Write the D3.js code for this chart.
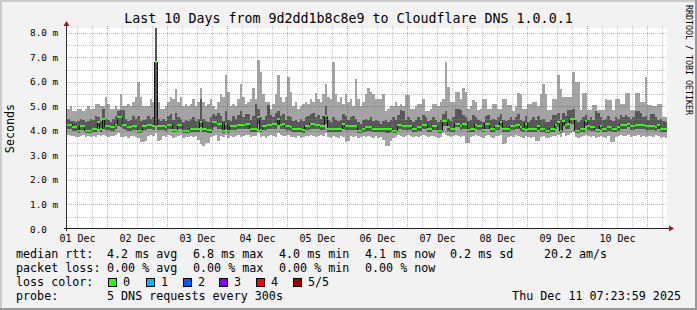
<!DOCTYPE html>
<html>
<head>
<meta charset="utf-8">
<script src="https://cdn.jsdelivr.net/npm/d3@7"></script>
<style>
  html, body { margin: 0; padding: 0; background: #f2f2f2; }
  svg { display: block; }
  text { font-family: "DejaVu Sans Mono", monospace; fill: #000; }
</style>
</head>
<body>
<div id="chart"></div>
<script>
// hourly RRA, 240 bins over 10 days; 5 pings per sample, sorted (ms)
const rttMax = [
  4.9,5.0,4.8,4.8,4.9,4.9,4.8,4.9,5.0,4.9,4.9,5.1,5.1,5.0,5.0,5.4,5.1,4.9,4.9,5.0,4.9,5.5,5.0,5.0,
  5.1,5.0,5.2,5.4,6.0,5.4,5.0,5.0,5.0,5.3,5.2,8.2,5.2,4.9,4.9,5.0,5.2,5.4,5.3,5.7,5.2,5.4,5.0,5.1,
  5.0,5.1,5.3,5.0,5.2,5.75,5.2,5.0,5.1,5.3,5.0,4.9,5.2,5.5,5.4,6.3,5.6,5.0,5.1,5.0,5.3,5.9,5.4,5.1,
  5.2,5.3,5.75,5.3,6.9,6.4,5.5,5.2,5.2,4.9,5.1,5.5,6.3,5.4,5.2,5.4,6.2,5.6,5.0,5.2,4.9,5.0,5.1,5.2,
  5.1,5.3,5.2,5.55,5.3,5.2,5.5,5.9,5.4,5.3,6.8,5.5,5.2,5.4,5.1,5.5,5.2,5.3,5.0,6.1,5.3,5.0,5.2,5.5,
  5.75,5.6,5.5,5.3,5.3,5.3,5.5,4.8,4.9,5.0,5.0,5.2,5.0,5.1,5.0,5.45,5.45,4.9,4.9,5.0,5.1,5.1,5.3,4.8,
  4.8,4.9,5.1,5.1,5.0,5.2,5.3,6.8,5.8,5.2,5.2,5.6,5.6,5.3,5.75,5.6,4.9,5.0,5.25,5.2,4.85,4.9,5.3,5.3,
  4.9,4.9,5.1,5.1,4.9,4.9,5.3,5.3,5.05,5.05,4.8,5.0,5.55,5.5,4.9,4.9,5.1,5.1,5.2,5.2,5.0,5.5,5.9,5.5,
  4.85,4.85,5.3,5.3,6.3,5.7,5.4,5.4,5.4,5.4,6.4,6.0,6.0,4.85,5.55,5.55,4.85,4.85,5.05,5.05,4.85,4.85,4.85,5.3,
  5.25,5.25,4.85,5.3,5.3,5.1,5.1,5.55,5.55,4.85,4.85,5.55,5.55,5.2,5.2,6.2,5.05,5.05,5.0,5.0,5.1,5.1,4.55,4.55
];
const rttP4 = [
  4.5,4.4,4.4,4.35,4.4,4.5,4.45,4.35,4.4,4.5,4.45,4.6,4.55,4.4,4.9,4.5,4.45,4.35,4.5,4.6,4.8,4.85,4.85,4.5,
  4.4,4.45,4.6,4.5,4.6,4.4,4.45,4.5,4.6,4.5,4.55,8.2,4.5,4.4,4.5,4.4,4.6,4.7,4.45,4.75,4.55,4.5,4.35,4.45,
  4.4,4.5,4.55,4.4,4.5,5.3,4.5,4.4,4.35,4.55,4.7,4.6,4.75,4.6,4.4,4.8,4.45,4.4,4.6,4.5,4.65,4.8,4.55,4.7,
  4.7,4.45,4.6,5.1,4.9,4.55,4.45,4.6,5.05,4.65,4.55,4.75,4.8,4.6,4.7,4.45,4.6,4.55,4.4,4.45,4.35,4.5,4.4,4.55,
  4.6,4.7,4.75,4.55,4.65,4.5,4.6,5.0,4.45,4.35,4.55,4.45,4.4,4.45,4.7,4.6,4.45,4.55,4.6,4.5,4.35,4.3,4.45,4.5,
  4.45,4.55,4.4,4.45,4.4,4.3,4.4,4.45,4.35,4.45,4.55,4.45,4.65,4.85,4.8,4.45,4.55,4.45,4.35,4.45,4.55,4.45,4.65,4.55,
  4.4,4.45,4.55,4.45,4.35,4.45,4.7,4.8,4.5,4.4,4.55,4.9,4.9,4.85,4.65,4.55,4.4,4.45,4.65,4.55,4.45,4.4,4.35,4.6,
  4.65,4.45,4.5,4.45,4.55,4.7,4.45,4.4,4.45,4.55,4.45,4.55,4.7,4.45,4.4,4.6,4.35,4.45,4.55,4.45,4.6,4.45,4.5,4.35,
  4.35,4.45,4.65,4.65,4.75,4.45,4.75,4.6,4.85,4.85,4.9,4.45,4.35,4.45,4.55,4.65,4.45,4.55,4.45,4.8,4.75,4.55,4.45,4.5,
  4.6,4.45,4.4,4.55,4.5,4.65,4.55,4.65,4.55,4.5,4.55,4.8,4.8,4.75,4.55,4.6,4.45,4.7,4.7,4.55,4.45,4.5,4.4,4.35
];
const rttMedian = [
  4.25,4.25,4.15,4.15,4.0,4.2,4.2,4.0,4.0,4.0,4.1,4.1,4.35,4.1,4.5,4.2,4.2,4.15,4.15,4.25,4.55,4.55,4.25,4.25,
  4.15,4.15,4.2,4.2,4.0,4.0,4.2,4.2,4.25,4.25,4.2,6.8,4.2,4.2,4.2,4.15,4.25,4.25,4.05,4.05,4.25,4.25,4.0,4.0,
  4.0,4.1,4.1,4.1,4.1,4.35,4.1,4.1,4.05,4.05,4.35,4.35,4.3,4.3,4.0,4.3,4.0,4.2,4.2,4.2,4.25,4.25,4.25,4.3,
  4.3,4.1,4.1,4.1,4.55,4.05,4.2,4.2,4.25,4.25,4.3,4.3,4.5,4.25,4.3,4.2,4.2,4.15,4.1,4.1,4.1,4.1,4.05,4.2,
  4.2,4.3,4.3,4.25,4.25,4.2,4.2,4.6,4.1,4.1,4.1,4.1,4.1,4.1,4.3,4.2,4.2,4.2,4.2,4.2,4.0,4.0,4.1,4.15,
  4.15,4.15,4.1,4.1,4.1,4.1,4.1,4.1,4.1,4.1,4.0,4.0,4.25,4.25,4.2,4.2,4.2,4.2,4.1,4.1,4.15,4.15,4.25,4.25,
  4.1,4.1,4.2,4.2,4.0,4.0,4.4,4.4,4.15,4.1,4.1,4.3,4.3,4.2,4.3,4.3,4.05,4.1,4.1,4.25,4.2,4.2,4.05,4.3,
  4.3,4.1,4.1,4.2,4.2,4.35,4.1,4.1,4.1,4.2,4.2,4.25,4.25,4.15,4.1,4.3,4.1,4.1,4.1,4.1,4.2,4.1,4.1,4.0,
  4.0,4.1,4.1,4.25,4.35,4.0,4.4,4.25,4.3,4.5,4.5,4.0,4.0,4.1,4.1,4.4,4.2,4.15,4.15,4.05,4.05,4.2,4.1,4.1,
  4.15,4.15,4.1,4.1,4.15,4.25,4.25,4.25,4.3,4.2,4.2,4.25,4.25,4.25,4.25,4.22,4.22,4.22,4.22,4.15,4.25,4.1,4.1,4.1
];
const rttP2 = [
  4.1,4.1,4.0,4.0,3.9,4.05,4.05,3.9,3.9,3.9,3.95,3.95,4.15,3.95,4.1,4.05,4.05,4.0,4.0,4.1,4.2,4.15,4.1,4.05,
  4.0,4.0,4.05,4.05,3.9,3.9,4.05,4.05,4.1,4.1,4.05,4.2,4.05,4.05,4.05,4.0,4.1,4.1,3.95,3.95,4.1,4.1,3.9,3.9,
  3.9,3.95,3.95,3.95,3.95,4.15,3.95,3.95,3.9,3.9,4.15,4.15,4.1,4.1,3.9,4.1,3.9,4.05,4.05,4.05,4.1,4.1,4.1,4.1,
  4.1,3.95,3.95,3.95,4.3,3.95,4.05,4.05,4.1,4.1,4.1,4.1,4.25,4.1,4.1,4.05,4.05,4.0,3.95,3.95,3.95,3.95,3.9,4.05,
  4.05,4.1,4.1,4.1,4.1,4.05,4.05,4.3,3.95,3.95,3.95,3.95,3.95,3.95,4.1,4.05,4.05,4.05,4.05,4.05,3.9,3.9,3.95,4.0,
  4.0,4.0,3.95,3.95,3.95,3.95,3.95,3.9,3.9,3.95,3.9,3.9,4.1,4.1,4.05,4.05,4.05,4.05,3.95,3.95,4.0,4.0,4.1,4.1,
  3.95,3.95,4.05,4.05,3.9,3.9,4.2,4.2,4.0,3.95,3.95,4.15,4.15,4.05,4.1,4.1,3.95,3.95,3.95,4.1,4.05,4.05,3.95,4.1,
  4.1,3.95,3.95,4.05,4.05,4.15,3.95,3.95,3.95,4.05,4.05,4.1,4.1,4.0,3.95,4.1,3.95,3.95,3.95,3.95,4.05,3.95,3.95,3.9,
  3.9,3.95,3.95,4.1,4.15,3.9,4.2,4.1,4.1,4.3,4.3,3.9,3.9,3.95,3.95,4.2,4.05,4.0,4.0,3.95,3.95,4.05,3.95,3.95,
  4.0,4.0,3.95,3.95,4.0,4.1,4.1,4.1,4.15,4.05,4.05,4.1,4.1,4.1,4.1,4.05,4.05,4.05,4.05,4.0,4.1,3.95,3.95,3.95
];
const rttMin = [
  3.85,3.8,3.8,3.75,3.75,3.8,3.85,3.75,3.8,3.75,3.8,3.75,3.85,3.8,3.85,3.8,3.75,3.8,3.8,3.85,3.9,3.75,3.75,3.8,
  3.7,3.8,3.8,3.75,3.7,3.55,3.55,3.6,3.8,3.85,3.8,3.9,3.6,3.65,3.8,3.75,3.85,3.8,3.7,3.75,3.8,3.85,3.7,3.75,
  3.75,3.8,3.75,3.8,3.65,3.45,3.4,3.5,3.5,3.75,3.8,3.85,3.6,3.8,3.75,3.85,3.7,3.8,3.75,3.8,3.85,3.75,3.8,3.85,
  3.85,3.75,3.8,3.8,3.9,3.75,3.8,3.7,3.8,3.85,3.8,3.75,3.9,3.85,3.8,3.8,3.85,3.75,3.75,3.7,3.8,3.7,3.75,3.8,
  3.8,3.85,3.8,3.75,3.8,3.85,3.8,3.9,3.75,3.7,3.8,3.75,3.7,3.8,3.75,3.55,3.6,3.8,3.75,3.8,3.7,3.75,3.8,3.75,
  3.8,3.75,3.7,3.8,3.7,3.75,3.65,3.4,3.4,3.6,3.7,3.75,3.85,3.8,3.75,3.8,3.85,3.8,3.75,3.8,3.75,3.8,3.85,3.8,
  3.75,3.8,3.8,3.75,3.7,3.75,3.9,3.85,3.8,3.75,3.8,3.85,3.8,3.75,3.8,3.5,3.5,3.75,3.8,3.85,3.8,3.75,3.7,3.8,
  3.85,3.75,3.7,3.8,3.8,3.85,3.45,3.5,3.75,3.8,3.75,3.85,3.8,3.75,3.7,3.8,3.75,3.7,3.75,3.6,3.6,3.75,3.8,3.7,
  3.7,3.75,3.8,3.8,3.85,3.75,3.9,3.8,3.85,3.9,3.95,3.75,3.7,3.75,3.8,3.85,3.8,3.75,3.8,3.7,3.75,3.8,3.75,3.7,
  3.8,3.55,3.55,3.75,3.8,3.85,3.8,3.8,3.85,3.75,3.8,3.8,3.85,3.75,3.8,3.75,3.8,3.8,3.75,3.85,3.8,3.7,3.75,3.7
];

const yTickValues = [0, 1, 2, 3, 4, 5, 6, 7, 8];
const title = 'Last 10 Days from 9d2dd1b8c8e9 to Cloudflare DNS 1.0.0.1';
const medianStats = ['4.2 ms avg', '6.8 ms max', '4.0 ms min', '4.1 ms now', '0.2 ms sd', '20.2', 'am/s'];
const lossStats = ['0.00 % avg', '0.00 % max', '0.00 % min', '0.00 % now'];
const lossLabels = ['0', '1', '2', '3', '4', '5/5'];
const lossColors = ['#26ff00', '#00b8ff', '#0059ff', '#7e00ff', '#ff0000', '#a00000'];
const probeText = '5 DNS requests every 300s';
const stamp = 'Thu Dec 11 07:23:59 2025';

function drawChart() {
    const svgWidth = 697;
    const svgHeight = 310;

    // plot area
    const plot = { left: 67, right: 667, top: 28, bottom: 229 };

    const svg = d3.select('#chart').append('svg')
        .attr('width', svgWidth)
        .attr('height', svgHeight);

    // background + 3d shade border
    svg.append('rect').attr('width', svgWidth).attr('height', svgHeight).attr('fill', '#f2f2f2');
    svg.append('rect').attr('x', 0).attr('y', 0).attr('width', svgWidth).attr('height', 2).attr('fill', '#cbcbcb');
    svg.append('rect').attr('x', 0).attr('y', 0).attr('width', 2).attr('height', svgHeight).attr('fill', '#cbcbcb');
    svg.append('rect').attr('x', 0).attr('y', svgHeight - 2).attr('width', svgWidth).attr('height', 2).attr('fill', '#999');
    svg.append('rect').attr('x', svgWidth - 2).attr('y', 0).attr('width', 2).attr('height', svgHeight).attr('fill', '#999');

    // canvas
    svg.append('rect')
        .attr('x', plot.left).attr('y', plot.top)
        .attr('width', plot.right - plot.left).attr('height', plot.bottom - plot.top)
        .attr('fill', '#fff');

    const start = new Date(Date.UTC(2025, 11, 1, 8));
    const end = new Date(Date.UTC(2025, 11, 11, 8));

    const xScale = d3.scaleUtc().domain([start, end]).range([plot.left, plot.right]);
    const yScale = d3.scaleLinear().domain([0, 8.2]).range([plot.bottom, plot.top]);

    const bins = rttMedian.map((m, i) => ({
        t0: d3.utcHour.offset(start, i),
        t1: d3.utcHour.offset(start, i + 1),
        min: rttMin[i], p2: rttP2[i], med: m, p4: rttP4[i], max: rttMax[i]
    }));

    const chartGroup = svg.append('g').attr('shape-rendering', 'crispEdges');

    // smoke: outer pair light, inner pair dark
    chartGroup.selectAll('rect.smoke-outer')
        .data(bins).join('rect')
        .attr('class', 'smoke-outer')
        .attr('x', d => xScale(d.t0))
        .attr('width', d => xScale(d.t1) - xScale(d.t0))
        .attr('y', d => yScale(d.max))
        .attr('height', d => yScale(d.min) - yScale(d.max))
        .attr('fill', '#a4a4a4');

    chartGroup.selectAll('rect.smoke-inner')
        .data(bins).join('rect')
        .attr('class', 'smoke-inner')
        .attr('x', d => xScale(d.t0))
        .attr('width', d => xScale(d.t1) - xScale(d.t0))
        .attr('y', d => yScale(d.p4))
        .attr('height', d => yScale(d.p2) - yScale(d.p4))
        .attr('fill', '#585858');

    // median step line (the vertical connectors show dark)
    const stepPts = bins.map(d => [d.t0, d.med]).concat([[end, bins[bins.length - 1].med]]);
    chartGroup.append('path')
        .datum(stepPts)
        .attr('fill', 'none')
        .attr('stroke', '#111')
        .attr('stroke-width', 1)
        .attr('d', d3.line().x(d => xScale(d[0])).y(d => yScale(d[1])).curve(d3.curveStepAfter));

    // median coloured by loss (all 0 loss here)
    chartGroup.selectAll('rect.median')
        .data(bins).join('rect')
        .attr('class', 'median')
        .attr('x', d => xScale(d.t0))
        .attr('width', d => xScale(d.t1) - xScale(d.t0))
        .attr('y', d => yScale(d.med) - 1)
        .attr('height', 2)
        .attr('fill', lossColors[0]);

    // grid (drawn over the graph, like rrdtool)
    const grid = svg.append('g').attr('shape-rendering', 'crispEdges');
    const minorColor = 'rgba(143,143,143,0.5)';
    const majorColor = 'rgba(200,0,0,0.36)';

    const hours6 = xScale.ticks(d3.utcHour.every(6)).filter(t => t.getUTCHours() !== 0);
    const days = xScale.ticks(d3.utcDay.every(1)).filter(t => +t > +start);
    const halfSteps = d3.range(0.5, 8.01, 1);

    grid.selectAll('line.vminor').data(hours6).join('line')
        .attr('x1', d => Math.round(xScale(d)) + 0.5).attr('x2', d => Math.round(xScale(d)) + 0.5)
        .attr('y1', plot.top - 2).attr('y2', plot.bottom)
        .attr('stroke', minorColor).attr('stroke-dasharray', '1,1');
    grid.selectAll('line.hminor').data(halfSteps).join('line')
        .attr('x1', plot.left).attr('x2', plot.right)
        .attr('y1', d => Math.round(yScale(d)) + 0.5).attr('y2', d => Math.round(yScale(d)) + 0.5)
        .attr('stroke', minorColor).attr('stroke-dasharray', '1,1');
    grid.selectAll('line.vmajor').data(days).join('line')
        .attr('x1', d => Math.round(xScale(d)) + 0.5).attr('x2', d => Math.round(xScale(d)) + 0.5)
        .attr('y1', plot.top - 2).attr('y2', plot.bottom)
        .attr('stroke', majorColor).attr('stroke-dasharray', '1,1');
    grid.selectAll('line.hmajor').data(yTickValues.filter(v => v > 0)).join('line')
        .attr('x1', plot.left).attr('x2', plot.right)
        .attr('y1', d => Math.round(yScale(d)) + 0.5).attr('y2', d => Math.round(yScale(d)) + 0.5)
        .attr('stroke', majorColor).attr('stroke-dasharray', '1,1');

    // axes lines + arrows
    svg.append('line')
        .attr('x1', plot.left - 0.5).attr('x2', plot.left - 0.5)
        .attr('y1', plot.bottom + 2).attr('y2', 24)
        .attr('stroke', '#303030');
    svg.append('line')
        .attr('x1', plot.left - 3).attr('x2', plot.right + 3)
        .attr('y1', plot.bottom - 0.5).attr('y2', plot.bottom - 0.5)
        .attr('stroke', '#202020');
    svg.append('path')
        .attr('d', `M${plot.left - 3.5},26 L${plot.left + 2.5},26 L${plot.left - 0.5},21 Z`)
        .attr('fill', '#9a1c1c');
    svg.append('path')
        .attr('d', `M${plot.right + 2},${plot.bottom - 3.5} L${plot.right + 2},${plot.bottom + 2.5} L${plot.right + 7},${plot.bottom - 0.5} Z`)
        .attr('fill', '#9a1c1c');

    // x labels centred at noon of each day
    const noonTicks = d3.utcDay.range(d3.utcDay.floor(start), end)
        .map(d => d3.utcHour.offset(d, 12))
        .filter(d => d < end);
    const xAxis = d3.axisBottom(xScale)
        .tickValues(noonTicks)
        .tickSize(0)
        .tickPadding(6)
        .tickFormat(d3.utcFormat('%d %b'));
    const xg = svg.append('g')
        .attr('transform', `translate(0, ${plot.bottom})`)
        .call(xAxis);
    xg.select('.domain').remove();
    xg.selectAll('text').attr('font-family', '"DejaVu Sans Mono", monospace').attr('font-size', 10).attr('fill', '#000');

    // y labels
    const yAxis = d3.axisLeft(yScale)
        .tickValues(yTickValues)
        .tickSize(0)
        .tickFormat(d => d === 0 ? '0.0' : d.toFixed(1) + ' m');
    const yg = svg.append('g')
        .attr('transform', `translate(${plot.left}, 0)`)
        .call(yAxis);
    yg.select('.domain').remove();
    yg.selectAll('text')
        .attr('font-family', '"DejaVu Sans Mono", monospace')
        .attr('font-size', 9.4)
        .attr('fill', '#000')
        .attr('text-anchor', 'start')
        .attr('x', 30 - plot.left);

    // title
    svg.append('text')
        .attr('x', 348.5).attr('y', 23)
        .attr('text-anchor', 'middle')
        .attr('font-size', 13.3)
        .text(title);

    // y axis title
    svg.append('text')
        .attr('transform', `translate(14, ${(plot.top + plot.bottom) / 2}) rotate(-90)`)
        .attr('text-anchor', 'middle')
        .attr('font-size', 11.7)
        .text('Seconds');

    // watermark
    svg.append('text')
        .attr('transform', 'translate(685.5, 5) rotate(90)')
        .attr('font-size', 8.3)
        .attr('fill', '#aaa')
        .text('RRDTOOL / TOBI OETIKER');

    // legend
    const legend = svg.append('g').attr('font-size', 11.7);
    const rowY = [258, 272, 286, 300];
    const statX = [107, 193, 279, 365, 450, 544, 579];

    legend.append('text').attr('x', 16).attr('y', rowY[0]).text('median rtt:');
    medianStats.forEach((s, i) => {
        legend.append('text').attr('x', statX[i]).attr('y', rowY[0]).text(s);
    });

    legend.append('text').attr('x', 16).attr('y', rowY[1]).text('packet loss:');
    lossStats.forEach((s, i) => {
        legend.append('text').attr('x', statX[i]).attr('y', rowY[1]).text(s);
    });

    legend.append('text').attr('x', 16).attr('y', rowY[2]).text('loss color:');
    const boxX = [108, 146, 183, 219, 256, 293];
    lossLabels.forEach((s, i) => {
        legend.append('rect')
            .attr('x', boxX[i] + 0.5).attr('y', rowY[2] - 7.5)
            .attr('width', 8).attr('height', 8)
            .attr('fill', lossColors[i])
            .attr('stroke', '#000');
        legend.append('text').attr('x', boxX[i] + 15).attr('y', rowY[2]).text(s);
    });

    legend.append('text').attr('x', 16).attr('y', rowY[3]).text('probe:');
    legend.append('text').attr('x', statX[0]).attr('y', rowY[3]).text(probeText);
    legend.append('text').attr('x', 681).attr('y', rowY[3]).attr('text-anchor', 'end').text(stamp);
}

drawChart();
</script>
</body>
</html>
